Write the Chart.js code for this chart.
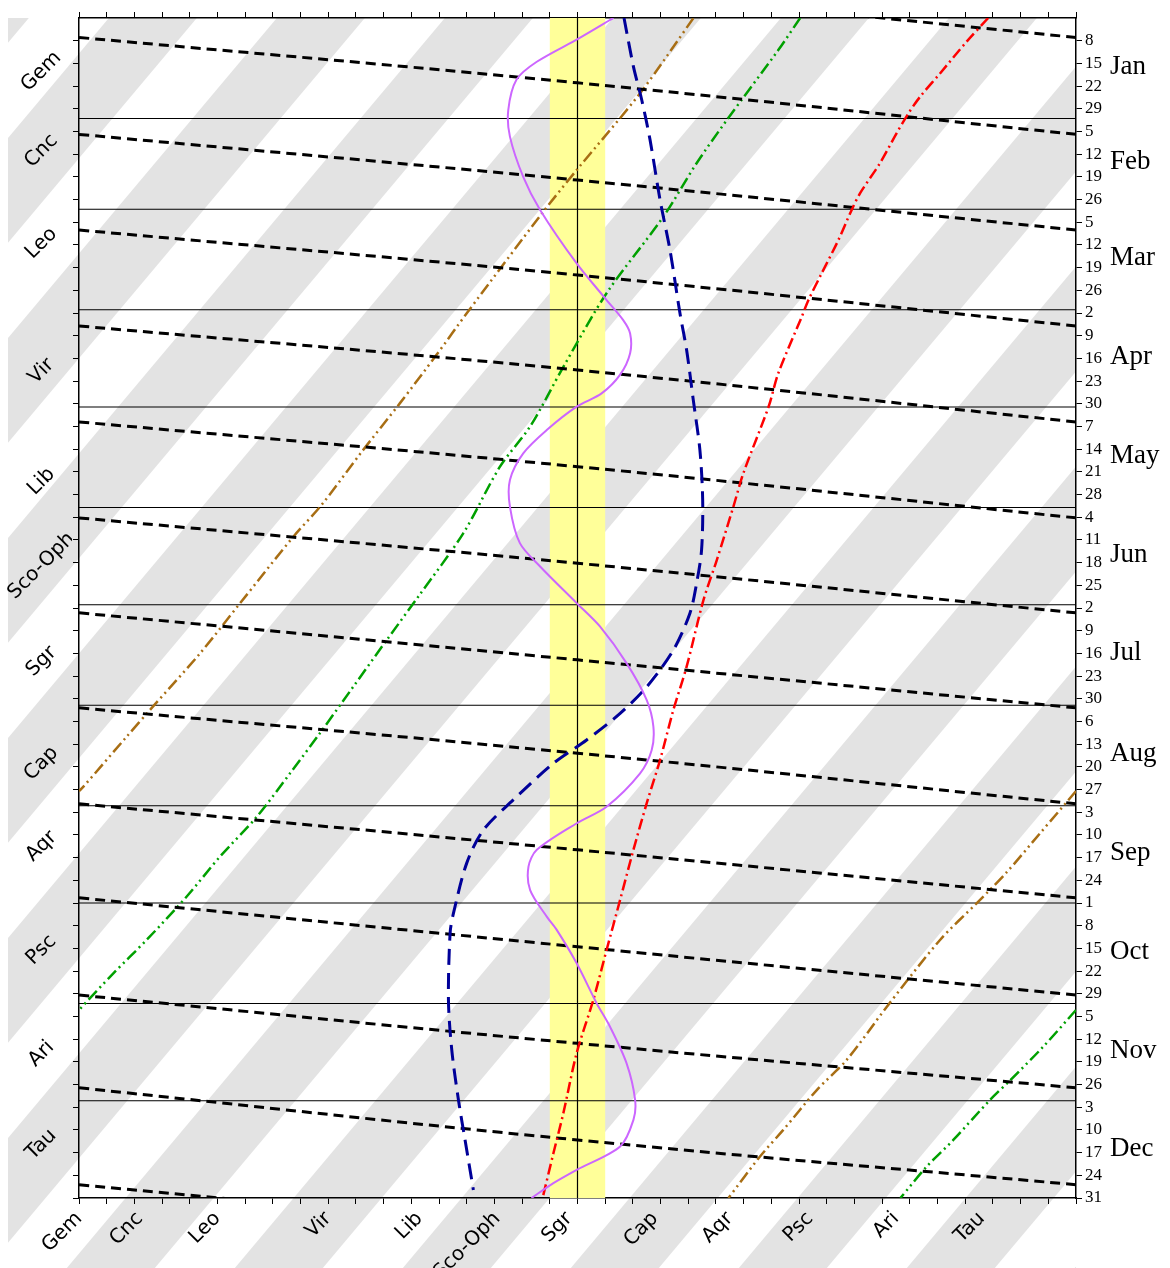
<!DOCTYPE html>
<html lang="en">
<head>
<meta charset="UTF-8">
<title>Ecliptic longitude through the year</title>
<style>
  html, body { margin: 0; padding: 0; background: #fff; }
  #wrap { width: 1170px; height: 1268px; position: relative; }
</style>
<script src="https://cdn.jsdelivr.net/npm/chart.js@4"></script>
</head>
<body>
<div id="wrap"><canvas id="chart"></canvas></div>
<script>
// ---- axis labels ----
const constNames = ['Gem', 'Cnc', 'Leo', 'Vir', 'Lib', 'Sco-Oph', 'Sgr', 'Cap', 'Aqr', 'Psc', 'Ari', 'Tau'];
const constLon   = [90, 112, 140, 180, 213, 241, 267, 298, 325, 354, 385, 416];
const sideNameDays = [17.5, 42, 70.5, 110, 144, 170, 199.5, 231, 256.5, 288.5, 320.5, 348.5];

const monthNames = ['Jan', 'Feb', 'Mar', 'Apr', 'May', 'Jun', 'Jul', 'Aug', 'Sep', 'Oct', 'Nov', 'Dec'];
const monthMidDays = [16, 45.5, 75, 105.5, 136, 166.5, 197, 228, 258.5, 289, 319.5, 350];
const monthStartDays = [32, 60, 91, 121, 152, 182, 213, 244, 274, 305, 335];
const weekTickLabels = ['8','15','22','29','5','12','19','26','5','12','19','26','2','9','16','23','30',
  '7','14','21','28','4','11','18','25','2','9','16','23','30','6','13','20','27','3','10','17','24',
  '1','8','15','22','29','5','12','19','26','3','10','17','24','31'];
const weekTickDays = weekTickLabels.map((_, i) => 8 + 7 * i);

// ---- band and reference line (degrees) ----
const bandLon = [260, 280];
const refLon = 270;

// ---- curves: longitude (deg) against day of year ----
const violetDay = [1, 7.3, 14.5, 20, 29.4, 37.6, 50, 60.2, 76.7, 88, 94.2, 98.3, 104.4, 111, 116.8, 120.9,
  128.1, 135.3, 143.5, 151.7, 163, 170.2, 181.5, 188.7, 200, 211.4, 219.6, 226.8, 234, 244.3, 249.4, 257.6,
  262.8, 270, 278.2, 282.3, 292.6, 304.9, 312.1, 323.4, 334.7, 340.9, 349.1, 356.3, 360.4, 365];
const violetLon = [283, 270.5, 255.3, 248, 245, 245.6, 250.4, 256.5, 269.7, 280.5, 286.5, 289, 289, 285.4, 278.7, 269.7,
  258.9, 250.4, 245.6, 245.6, 249.2, 256.5, 269.7, 278.1, 287.7, 295, 297.4, 296.8, 292.6, 280.5, 269.7, 255.3,
  252.3, 252.9, 258.9, 262.5, 269.7, 276.9, 281.7, 287.7, 290.8, 290.2, 285.4, 269.7, 261.3, 253.4];

const blueDay = [1, 16, 26.3, 38.6, 57.1, 72.6, 92.1, 103.4, 118.8, 134.3, 149.7, 165.1, 175.4, 184.6, 196, 207.3,
  215.5, 223.7, 230.9, 242.2, 251.5, 261.7, 277.2, 283.3, 303.9, 319.3, 334.7, 347.1, 362.5];
const blueLon = [286.8, 290.2, 293.2, 296.2, 299.8, 303.4, 307, 309.4, 311.8, 314.2, 315.2, 314.8, 313, 310.6, 304.6, 295,
  285.4, 273.3, 261.3, 246.8, 236, 230, 225.2, 224, 223.4, 224.6, 227, 229.4, 232.4];

const redDay = [1, 8.3, 18.1, 25.3, 30.4, 36.6, 45.8, 55.1, 60.2, 69.5, 79.7, 88, 93.1, 110.6, 120.9, 141.4, 151.7,
  168.2, 180.5, 201.1, 214.5, 229.9, 243.2, 257.6, 273, 288.5, 303.9, 320.3, 338.8, 351.2, 365];
const redLon = [418.3, 410.5, 400.9, 393.7, 389.5, 385.2, 379.2, 372, 369, 364.2, 358.2, 353.4, 351, 342.5, 339, 329.9, 326.3,
  320.3, 315.5, 309.4, 304.6, 299.8, 295, 290.2, 285.4, 280.5, 275.7, 269.7, 264.9, 261.3, 257.4];

// brown and green wrap around at 90/450 deg: null marks the break
const brownDay = [1.1, 24.2, 47.9, 60.7, 92.1, 104.9, 119.8, 134.8, 151.2, 161, 181.6, 197, 213.9, 222.7, 238.1, 239.5,
  null, 239.5, 252.5, 264.5, 274.1, 285.4, 306, 322.4, 331.7, 344, 352.2, 365];
const brownLon = [311.8, 292.6, 269.7, 257.7, 230, 219.1, 205.9, 192.1, 177.6, 167.4, 148.1, 133.7, 116.2, 107.2, 91.6, 90,
  null, 450, 437, 425, 414.1, 400.9, 381.7, 367.2, 356.4, 344.3, 335.9, 324.5];

const greenDay = [1, 10.9, 32.5, 45.8, 62.3, 85.9, 108.6, 127, 139.4, 159.9, 179.5, 192.9, 207.2, 221.6, 234, 247.4,
  259.7, 272, 285.4, 295.7, 307, null, 307, 318.3, 328.7, 334.7, 347.1, 355.3, 365];
const greenLon = [350.4, 342.5, 323.9, 313, 301, 280.5, 264.9, 252.9, 242, 228.8, 212.5, 201.1, 189.1, 177, 166.2, 154.2,
  140.9, 128.9, 114.4, 102.4, 90, null, 450, 438.2, 426.2, 419, 405.7, 396.1, 386.6];

// black dashed lines: day at longitude 90, 270 and 450 for each pass
const passLon = [90, 270, 450];
const passDayAt90  = [-22.7, 7.0, 36.9, 66.4, 96.0, 125.6, 155.2, 184.5, 213.8, 243.4, 272.4, 302.4, 331.0, 360.9];
const passDayAt270 = [-8.3, 21.0, 51.0, 80.3, 109.6, 139.4, 169.2, 199.0, 227.8, 257.6, 287.5, 317.3, 347.1, 375.5];
const passDayAt450 = [7.0, 36.9, 66.4, 96.0, 125.6, 155.2, 184.5, 213.8, 243.4, 272.4, 302.4, 331.0, 360.9, 390.5];

// ---- build point lists ----
const pts = (lon, day) => lon.map((x, i) => ({ x: x, y: day[i] }));

const passPts = [];
passDayAt90.forEach((d, i) => {
  passPts.push({ x: passLon[0], y: d }, { x: passLon[1], y: passDayAt270[i] }, { x: passLon[2], y: passDayAt450[i] });
  passPts.push({ x: null, y: null });
});

const monthLinePts = [];
monthStartDays.forEach(d => {
  monthLinePts.push({ x: 90, y: d }, { x: 450, y: d }, { x: null, y: null });
});

const sansFont = { family: '"DejaVu Sans", sans-serif', size: 20 };
const serifFont = { family: '"Liberation Serif", "Times New Roman", serif', size: 17 };
const monthFont = { family: '"Liberation Serif", "Times New Roman", serif', size: 27 };

// light grey diagonal stripes behind everything
const stripes = {
  id: 'stripes',
  beforeDraw(chart) {
    const { ctx, chartArea: a } = chart;
    const left = a.left - 71, top = a.top, right = a.right, bottom = chart.height;
    const period = 168, width = 88, lean = 0.84;
    const x0 = a.left + 197, y0 = a.top + 1;
    ctx.save();
    ctx.beginPath();
    ctx.rect(left, top, right - left, bottom - top);
    ctx.clip();
    ctx.fillStyle = '#e3e3e3';
    for (let k = -12; k < 20; k++) {
      const xt = x0 - lean * (top - y0) + k * period;
      const xb = x0 - lean * (bottom - y0) + k * period;
      ctx.beginPath();
      ctx.moveTo(xt, top);
      ctx.lineTo(xt + width, top);
      ctx.lineTo(xb + width, bottom);
      ctx.lineTo(xb, bottom);
      ctx.closePath();
      ctx.fill();
    }
    ctx.restore();
  }
};

const tickGrid = { drawOnChartArea: false, drawTicks: true, tickLength: 6, color: '#000', tickColor: '#000', lineWidth: 1 };
const axisBorder = { display: true, color: '#000', width: 1.5 };
const noGrid = { display: false, drawTicks: false };

const lonAxis = (extra) => Object.assign({ type: 'linear', min: 90, max: 450 }, extra);
const dayAxis = (extra) => Object.assign({ type: 'linear', min: 1, max: 365, reverse: true }, extra);

new Chart(document.getElementById('chart'), {
  type: 'line',
  data: {
    datasets: [
      { label: 'violet', data: pts(violetLon, violetDay), borderColor: '#cc66ff', borderWidth: 2, tension: 0.3 },
      { label: 'red', data: pts(redLon, redDay), borderColor: '#ff0000', borderWidth: 2.5, borderDash: [11, 4, 2, 4], tension: 0.3 },
      { label: 'blue', data: pts(blueLon, blueDay), borderColor: '#000099', borderWidth: 3, borderDash: [16, 8], tension: 0.3 },
      { label: 'passes', data: passPts, borderColor: '#000', borderWidth: 3, borderDash: [10, 6], tension: 0.4 },
      { label: 'brown', data: pts(brownLon, brownDay), borderColor: '#a86e14', borderWidth: 2.5, borderDash: [12, 4, 2, 4, 2, 4], tension: 0.3 },
      { label: 'green', data: pts(greenLon, greenDay), borderColor: '#00a000', borderWidth: 2.5, borderDash: [12, 4, 2, 4, 2, 4], tension: 0.3 },
      { label: 'months', data: monthLinePts, borderColor: '#000', borderWidth: 1.2 },
      { label: 'ref', data: [{ x: refLon, y: 1 }, { x: refLon, y: 365 }], borderColor: '#000', borderWidth: 1.2 },
      { label: 'band', data: [{ x: bandLon[0], y: 1 }, { x: bandLon[1], y: 1 }, { x: bandLon[1], y: 365 }, { x: bandLon[0], y: 365 }, { x: bandLon[0], y: 1 }],
        borderWidth: 0, borderColor: 'rgba(0,0,0,0)', backgroundColor: '#ffff99', fill: 'shape' }
    ]
  },
  options: {
    responsive: true,
    maintainAspectRatio: false,
    animation: false,
    events: [],
    layout: { padding: 0, autoPadding: false },
    elements: { point: { radius: 0 }, line: { fill: false } },
    plugins: { legend: { display: false }, tooltip: { enabled: false } },
    scales: {
      x: lonAxis({ position: 'bottom', weight: 0, ticks: { display: false, stepSize: 10 }, grid: tickGrid, border: axisBorder,
        afterFit: s => { s.height = 7; } }),
      xName: lonAxis({ position: 'bottom', weight: 1,
        afterBuildTicks: s => { s.ticks = constLon.map(v => ({ value: v })); },
        ticks: { autoSkip: false, minRotation: 45, maxRotation: 45, padding: 2, color: '#000', font: sansFont,
          callback: (v, i) => constNames[i] },
        grid: noGrid, border: { display: false }, afterFit: s => { s.height = 63; } }),
      xTop: lonAxis({ position: 'top', ticks: { display: false, stepSize: 10 }, grid: tickGrid, border: axisBorder,
        afterFit: s => { s.height = 18; } }),
      y: dayAxis({ position: 'left', weight: 0,
        afterBuildTicks: s => { s.ticks = weekTickDays.map(v => ({ value: v })); },
        ticks: { display: false }, grid: tickGrid, border: axisBorder, afterFit: s => { s.width = 7; } }),
      yName: dayAxis({ position: 'left', weight: 1,
        afterBuildTicks: s => { s.ticks = sideNameDays.map(v => ({ value: v })); },
        ticks: { autoSkip: false, minRotation: 45, maxRotation: 45, crossAlign: 'center', padding: -12, color: '#000', font: sansFont,
          callback: (v, i) => constNames[i] },
        grid: noGrid, border: { display: false }, afterFit: s => { s.width = 72; } }),
      yDay: dayAxis({ position: 'right', weight: 0,
        afterBuildTicks: s => { s.ticks = weekTickDays.map(v => ({ value: v })); },
        ticks: { autoSkip: false, padding: 3, color: '#000', font: serifFont, callback: (v, i) => weekTickLabels[i] },
        grid: tickGrid, border: axisBorder, afterFit: s => { s.width = 33; } }),
      yMonth: dayAxis({ position: 'right', weight: 1,
        afterBuildTicks: s => { s.ticks = monthMidDays.map(v => ({ value: v })); },
        ticks: { autoSkip: false, padding: 1, color: '#000', font: monthFont, callback: (v, i) => monthNames[i] },
        grid: noGrid, border: { display: false }, afterFit: s => { s.width = 61; } })
    }
  },
  plugins: [stripes]
});
</script>
</body>
</html>
